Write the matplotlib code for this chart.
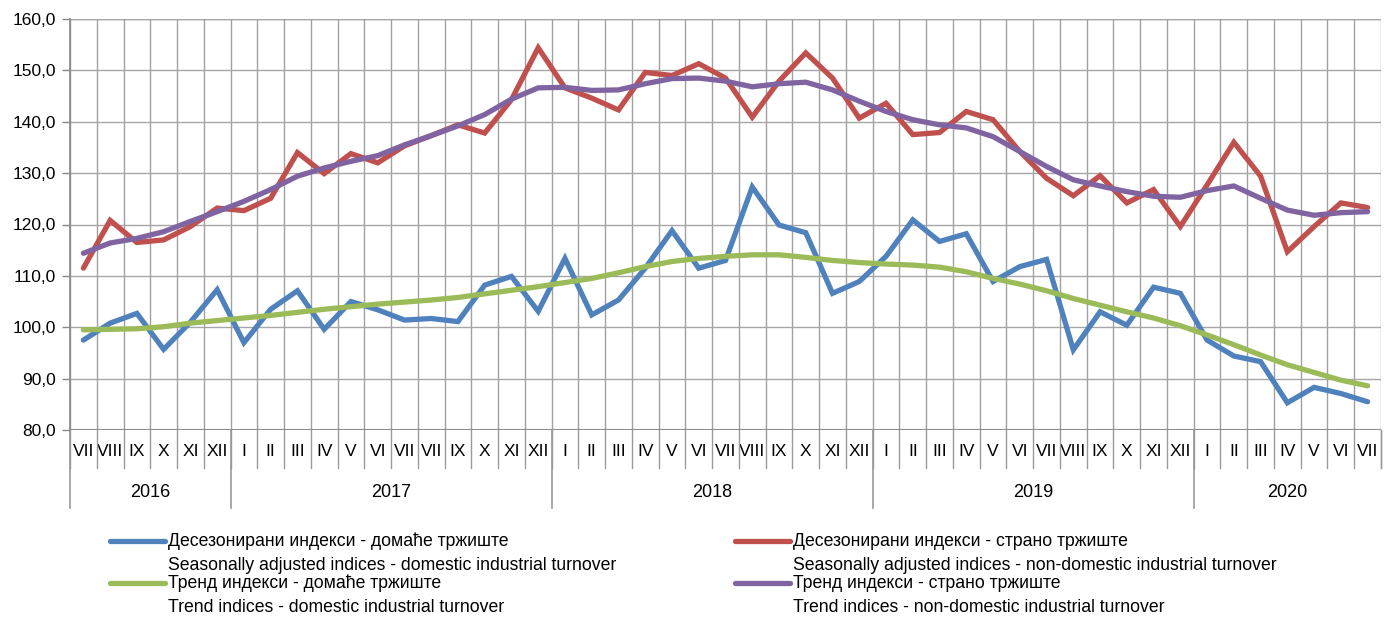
import numpy as np
import matplotlib
matplotlib.use("Agg")
import matplotlib.pyplot as plt
from matplotlib.lines import Line2D
from matplotlib.ticker import FuncFormatter

plt.rcParams['font.family'] = ['Liberation Sans Narrow', 'Liberation Sans', 'DejaVu Sans']

# month labels, VII 2016 .. VII 2020 (the 2017 "VII" twice is as in the source)
months = (['VII', 'VIII', 'IX', 'X', 'XI', 'XII'] +
          ['I', 'II', 'III', 'IV', 'V', 'VI', 'VII', 'VII', 'IX', 'X', 'XI', 'XII'] +
          ['I', 'II', 'III', 'IV', 'V', 'VI', 'VII', 'VIII', 'IX', 'X', 'XI', 'XII'] +
          ['I', 'II', 'III', 'IV', 'V', 'VI', 'VII', 'VIII', 'IX', 'X', 'XI', 'XII'] +
          ['I', 'II', 'III', 'IV', 'V', 'VI', 'VII'])
years = ['2016', '2017', '2018', '2019', '2020']
year_len = [6, 12, 12, 12, 7]

sa_domestic = [97.5, 100.8, 102.7, 95.7, 101.0, 107.3, 97.0, 103.5, 107.1, 99.6, 105.0, 103.4,
               101.4, 101.7, 101.1, 108.2, 109.9, 103.1, 113.4, 102.4, 105.3, 111.5, 118.8, 111.5,
               113.0, 127.3, 119.9, 118.4, 106.6, 108.9, 113.8, 120.9, 116.7, 118.2, 108.9, 111.8,
               113.2, 95.6, 103.0, 100.4, 107.8, 106.6, 97.5, 94.4, 93.3, 85.3, 88.3, 87.1, 85.5]
sa_foreign = [111.5, 120.8, 116.5, 117.0, 119.6, 123.2, 122.7, 125.1, 134.0, 129.9, 133.8, 132.0,
              135.3, 137.3, 139.4, 137.8, 144.3, 154.4, 146.6, 144.6, 142.3, 149.6, 149.0, 151.3,
              148.5, 140.9, 147.9, 153.4, 148.5, 140.7, 143.6, 137.5, 137.9, 142.0, 140.4, 134.2,
              129.0, 125.6, 129.5, 124.2, 126.8, 119.6, 127.7, 136.0, 129.4, 114.7, 119.6, 124.2, 123.3]
trend_domestic = [99.5, 99.6, 99.7, 100.1, 100.8, 101.3, 101.8, 102.3, 102.9, 103.5, 104.0, 104.5,
                  104.9, 105.3, 105.8, 106.5, 107.2, 107.9, 108.7, 109.5, 110.6, 111.8, 112.8, 113.4,
                  113.8, 114.1, 114.1, 113.6, 113.0, 112.6, 112.3, 112.1, 111.7, 110.8, 109.5, 108.4,
                  107.1, 105.6, 104.3, 103.0, 101.8, 100.3, 98.5, 96.6, 94.6, 92.7, 91.2, 89.7, 88.6]
trend_foreign = [114.4, 116.4, 117.3, 118.6, 120.6, 122.5, 124.5, 126.8, 129.4, 131.0, 132.3, 133.4,
                 135.5, 137.3, 139.2, 141.4, 144.4, 146.6, 146.7, 146.1, 146.2, 147.4, 148.4, 148.5,
                 147.9, 146.8, 147.4, 147.7, 146.2, 144.0, 142.0, 140.4, 139.4, 138.8, 137.1, 134.2,
                 131.3, 128.7, 127.5, 126.4, 125.5, 125.3, 126.6, 127.5, 125.1, 122.8, 121.8, 122.3, 122.5]

labels_sr = ['Десезонирани индекси - домаће тржиште', 'Десезонирани индекси - страно тржиште',
             'Тренд индекси - домаће тржиште', 'Тренд индекси - страно тржиште']
labels_en = ['Seasonally adjusted indices - domestic industrial turnover',
             'Seasonally adjusted indices - non-domestic industrial turnover',
             'Trend indices - domestic industrial turnover',
             'Trend indices - non-domestic industrial turnover']
colors = ['#4F81BD', '#C0504D', '#9BBB59', '#8064A2']

fig = plt.figure(figsize=(13.92, 6.21), dpi=100)
ax = fig.add_axes([70 / 1392, 1 - 430 / 621, 1311 / 1392, 411 / 621])

x = np.arange(len(months))
series = [sa_domestic, sa_foreign, trend_domestic, trend_foreign]
for s, c in zip(series, colors):
    ax.plot(x, s, color=c, lw=3.8, solid_joinstyle='miter', solid_capstyle='round', zorder=3)

ax.set_xlim(-0.5, len(months) - 0.5)
ax.set_ylim(80, 160)
ax.set_yticks(np.arange(80, 161, 10))
ax.yaxis.set_major_formatter(FuncFormatter(lambda v, p: f'{v:.1f}'.replace('.', ',')))
ax.tick_params(axis='y', length=6, width=1, color='#888888', labelsize=12.5, pad=4)

ax.set_xticks(x)
ax.set_xticklabels(months, fontsize=12.5)
ax.tick_params(axis='x', length=0, pad=10)

# grid
ax.grid(axis='y', color='#a6a6a6', lw=1, zorder=0)
for b in np.arange(len(months) + 1) - 0.5:
    ax.axvline(b, color='#a0a0a0', lw=1, zorder=0)

for sp in ['top', 'right', 'bottom']:
    ax.spines[sp].set_visible(False)
ax.spines['left'].set_color('#888888')
ax.spines['left'].set_linewidth(1.2)
ax.axhline(160, color='#999999', lw=1, zorder=1)
ax.axhline(80, color='#888888', lw=1.5, zorder=1)

# month separators and year separators below the axis
trans = ax.get_xaxis_transform()
for b in np.arange(len(months) + 1) - 0.5:
    ax.plot([b, b], [0, -0.092], color='#999999', lw=1, transform=trans, clip_on=False)
start = -0.5
for yr, n in zip(years, year_len):
    ax.plot([start, start], [0, -0.19], color='#999999', lw=1.2, transform=trans, clip_on=False)
    ax.text(start + n / 2, -0.153, yr, transform=trans, ha='center', va='center', fontsize=13)
    start += n
ax.plot([start, start], [0, -0.092], color='#999999', lw=1, transform=trans, clip_on=False)

# legend
leg_pos = [(110, 541), (735, 541), (110, 583), (735, 583)]
for (lx, ly), c, sr, en in zip(leg_pos, colors, labels_sr, labels_en):
    fx0, fx1 = lx / 1392, (lx + 55) / 1392
    fy = 1 - ly / 621
    fig.add_artist(Line2D([fx0, fx1], [fy, fy], color=c, lw=3.8, solid_capstyle='round'))
    fig.text((lx + 58) / 1392, fy, sr, ha='left', va='center', fontsize=12.7)
    fig.text((lx + 58) / 1392, 1 - (ly + 25) / 621, en, ha='left', va='center', fontsize=12.7)

fig.savefig('out.png', dpi=100)
